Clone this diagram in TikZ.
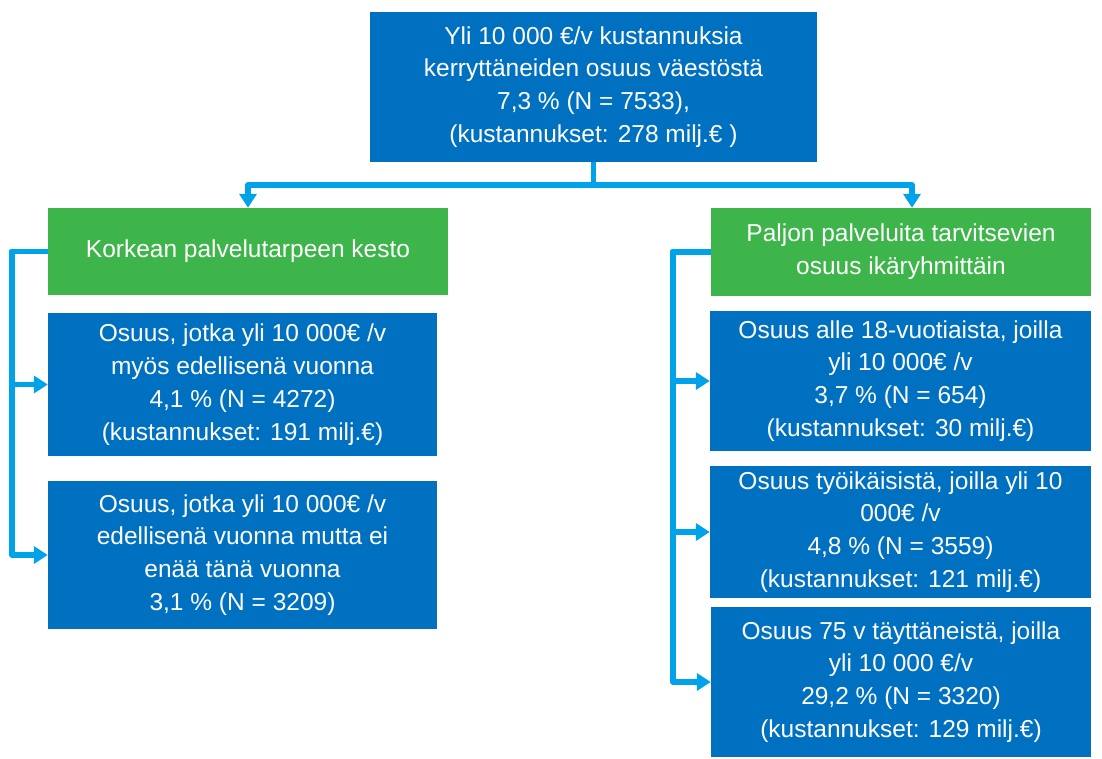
\documentclass[tikz,border=0pt]{standalone}
\usepackage{fontspec}
\setmainfont{Liberation Sans}
\usetikzlibrary{arrows.meta}
\definecolor{boxblue}{RGB}{0,112,192}
\definecolor{boxgreen}{RGB}{61,181,74}
\definecolor{linkblue}{RGB}{0,163,233}
\tikzset{
  card/.style={rectangle, inner sep=0pt, align=center, text=white,
    font=\fontsize{24.5}{32.8}\selectfont},
  bluecard/.style={card, fill=boxblue},
  greencard/.style={card, fill=boxgreen},
  link/.style={draw=linkblue, line width=5.5pt, line join=round,
    -{Triangle[length=14pt,width=17pt]}},
}
\begin{document}
\begin{tikzpicture}[x=1pt,y=-1pt]
\useasboundingbox[fill=white] (0,0) rectangle (1102,758);

% top summary box
\node[bluecard, minimum width=447pt, minimum height=150pt] (top) at (593.5,87)
  {Yli 10 000 €/v kustannuksia\\kerryttäneiden osuus väestöstä\\7,3 \% (N = 7533),\\(kustannukset: 278 milj.€ )};

% category headers
\node[greencard, minimum width=400pt, minimum height=87pt] (lg) at (248,251.5)
  {Korkean palvelutarpeen kesto};
\node[greencard, minimum width=380pt, minimum height=88pt] (rg) at (901,252)
  {Paljon palveluita tarvitsevien\\osuus ikäryhmittäin};

% left column
\node[bluecard, minimum width=389pt, minimum height=143pt] (lb1) at (242.5,384.5)
  {Osuus, jotka yli 10 000€ /v\\myös edellisenä vuonna\\4,1 \% (N = 4272)\\(kustannukset: 191 milj.€)};
\node[bluecard, minimum width=389pt, minimum height=148pt] (lb2) at (242.5,555)
  {Osuus, jotka yli 10 000€ /v\\edellisenä vuonna mutta ei\\enää tänä vuonna\\3,1 \% (N = 3209)};

% right column
\node[bluecard, minimum width=381pt, minimum height=140pt] (rb1) at (900.5,381)
  {Osuus alle 18-vuotiaista, joilla\\yli 10 000€ /v\\3,7 \% (N = 654)\\(kustannukset: 30 milj.€)};
\node[bluecard, minimum width=381pt, minimum height=132pt] (rb2) at (900.5,532)
  {Osuus työikäisistä, joilla yli 10\\000€ /v\\4,8 \% (N = 3559)\\(kustannukset: 121 milj.€)};
\node[bluecard, minimum width=380pt, minimum height=150pt] (rb3) at (901,682)
  {Osuus 75 v täyttäneistä, joilla\\yli 10 000 €/v\\29,2 \% (N = 3320)\\(kustannukset: 129 milj.€)};

% connectors from the summary box
\draw[link] (top.south) -- ++(0,23) -| (lg.north);
\draw[link] (top.south) -- ++(0,23) -| ([xshift=11pt]rg.north);

% left bracket
\draw[link] (lg.west) -- ++(-36,0) |- (lb1.west);
\draw[link] (lg.west) -- ++(-36,0) |- (lb2.west);

% right bracket
\draw[link] (rg.west) -- ++(-38,0) |- (rb1.west);
\draw[link] (rg.west) -- ++(-38,0) |- (rb2.west);
\draw[link] (rg.west) -- ++(-38,0) |- (rb3.west);
\end{tikzpicture}
\end{document}
